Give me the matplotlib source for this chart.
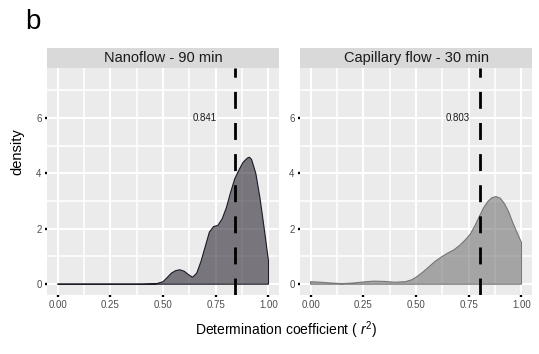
import matplotlib
matplotlib.use("Agg")
import matplotlib.pyplot as plt
from matplotlib.ticker import FixedLocator

plt.rcParams['font.family'] = ['Liberation Sans', 'DejaVu Sans']
plt.rcParams['mathtext.fontset'] = 'custom'
plt.rcParams['mathtext.rm'] = 'Liberation Sans'
plt.rcParams['mathtext.it'] = 'Liberation Sans:italic'
plt.rcParams['lines.scale_dashes'] = False

# ---- data -------------------------------------------------------------
panel_titles = ["Nanoflow - 90 min", "Capillary flow - 30 min"]
medians = [0.841, 0.803]

nano_x = [0.00, 0.40, 0.45, 0.47, 0.50, 0.52, 0.54, 0.56, 0.58, 0.60,
          0.62, 0.64, 0.66, 0.68, 0.70, 0.72, 0.74, 0.76, 0.78, 0.80,
          0.82, 0.84, 0.86, 0.88, 0.90, 0.91, 0.92, 0.94, 0.96, 0.98, 1.00]
nano_y = [0.00, 0.00, 0.01, 0.02, 0.09, 0.24, 0.40, 0.49, 0.52, 0.47,
          0.35, 0.25, 0.40, 0.82, 1.35, 1.88, 2.08, 2.12, 2.35, 2.75,
          3.30, 3.80, 4.12, 4.40, 4.55, 4.58, 4.50, 4.00, 3.10, 2.00, 0.85]

cap_x = [0.00, 0.05, 0.10, 0.15, 0.20, 0.25, 0.30, 0.35, 0.40, 0.45,
         0.48, 0.50, 0.53, 0.56, 0.59, 0.62, 0.65, 0.68, 0.71, 0.74,
         0.76, 0.78, 0.80, 0.82, 0.84, 0.86, 0.88, 0.90, 0.92, 0.94,
         0.96, 0.98, 1.00]
cap_y = [0.09, 0.07, 0.04, 0.02, 0.04, 0.08, 0.11, 0.10, 0.07, 0.09,
         0.16, 0.25, 0.42, 0.62, 0.82, 0.98, 1.12, 1.24, 1.42, 1.65,
         1.84, 2.12, 2.44, 2.75, 2.98, 3.12, 3.16, 3.10, 2.90, 2.60,
         2.20, 1.85, 1.50]

x_ticks = [0.00, 0.25, 0.50, 0.75, 1.00]
x_ticklabels = ["0.00", "0.25", "0.50", "0.75", "1.00"]
y_ticks = [0, 2, 4, 6]

# ---- styling ----------------------------------------------------------
fills = [(0.10, 0.08, 0.14, 0.55), (0.42, 0.42, 0.42, 0.55)]
edges = ["#1c1a26", "#767676"]
W, H = 539, 354
fig = plt.figure(figsize=(W / 100, H / 100), dpi=100)

panels = [(47, 279), (300, 532)]
ptop, pbot, stop = 68, 295, 48

for i, (xs, ys) in enumerate([(nano_x, nano_y), (cap_x, cap_y)]):
    x0, x1 = panels[i]
    ax = fig.add_axes([x0 / W, (H - pbot) / H, (x1 - x0) / W, (pbot - ptop) / H])
    ax.set_facecolor("#EBEBEB")
    for s in ax.spines.values():
        s.set_visible(False)
    ax.set_xlim(-0.05, 1.05)
    ax.set_ylim(-0.39, 7.8)
    ax.set_xticks(x_ticks)
    ax.set_xticklabels(x_ticklabels)
    ax.set_yticks(y_ticks)
    ax.xaxis.set_minor_locator(FixedLocator([0.125, 0.375, 0.625, 0.875]))
    ax.yaxis.set_minor_locator(FixedLocator([1, 3, 5, 7]))
    ax.grid(True, which="major", color="white", linewidth=1.5)
    ax.grid(True, which="minor", color="white", linewidth=1.1)
    ax.tick_params(which="minor", length=0)
    ax.tick_params(which="major", length=1.7, width=1.7, color="black",
                   labelsize=7, labelcolor="#4D4D4D", pad=2.2)
    ax.set_axisbelow(True)

    px = [xs[0]] + list(xs) + [xs[-1]]
    py = [0] + list(ys) + [0]
    ax.fill(px, py, facecolor=fills[i], edgecolor=edges[i], linewidth=0.8,
            zorder=2)

    ax.plot([medians[i], medians[i]], [-0.39, 7.8], color="black",
            linewidth=2.0, linestyle=(0, (12.2, 10.2)), solid_capstyle="butt",
            dash_capstyle="butt", zorder=3)
    ax.text(0.70, 6, f"{medians[i]:.3f}", ha="center", va="center",
            fontsize=7, color="#1a1a1a", zorder=4)

    sax = fig.add_axes([x0 / W, (H - ptop) / H, (x1 - x0) / W, (ptop - stop) / H])
    sax.set_facecolor("#D9D9D9")
    sax.set_xticks([])
    sax.set_yticks([])
    for s in sax.spines.values():
        s.set_visible(False)
    sax.text(0.5, 0.5, panel_titles[i], ha="center", va="center",
             fontsize=10.5, color="#1A1A1A", transform=sax.transAxes)

fig.text(17 / W, 1 - 152 / H, "density", rotation=90, ha="center",
         va="center", fontsize=10.5, color="black")
fig.text(286 / W, 1 - 330 / H, r"Determination coefficient ( $\mathit{r}^2$)",
         ha="center", va="center", fontsize=10, color="black")
fig.text(25 / W, 1 - 22 / H, "b", ha="left", va="center", fontsize=20,
         color="black")

fig.savefig("out.png", dpi=100)
